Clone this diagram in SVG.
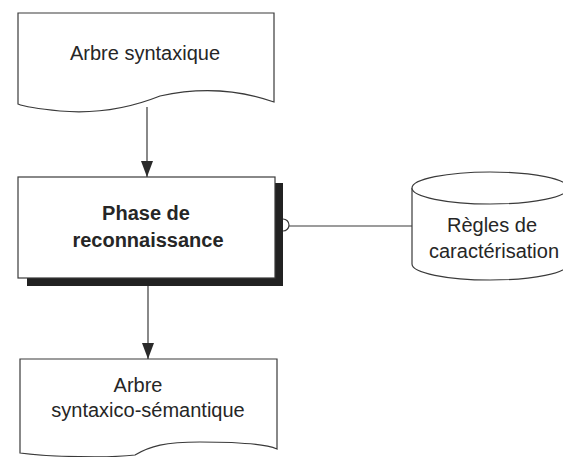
<svg xmlns="http://www.w3.org/2000/svg" width="563" height="457" viewBox="0 0 563 457">
  <style>
    .shape { fill: #fff; stroke: #3a3a3a; stroke-width: 1.2; }
    .label { font-family: "Liberation Sans", Arial, sans-serif; font-size: 20px; fill: #262626; text-anchor: middle; }
    .bold { font-weight: bold; }
    .wire { stroke: #3a3a3a; stroke-width: 1.2; fill: none; }
  </style>
  <defs>
    <marker id="arrow" viewBox="0 0 16 12" refX="16" refY="6" markerWidth="16" markerHeight="12" markerUnits="userSpaceOnUse" orient="auto">
      <path d="M0,0 L16,6 L0,12 Z" fill="#2a2a2a"/>
    </marker>
  </defs>
  <rect width="563" height="457" fill="#fff"/>

  <!-- input document -->
  <g id="arbre-syntaxique">
    <path class="shape" d="M18,13 H274 V102 C240,90 200,87 160,96 C130,108 95,114 60,111 C40,109 25,107 18,104 Z"/>
    <text class="label" x="145" y="60">Arbre syntaxique</text>
  </g>

  <!-- processing step with drop shadow -->
  <g id="phase-reconnaissance">
    <rect x="27" y="183" width="256" height="103" fill="#222"/>
    <rect class="shape" x="18" y="177" width="257" height="101"/>
    <text class="label bold" x="146" y="220">Phase de</text>
    <text class="label bold" x="148" y="247">reconnaissance</text>
  </g>

  <!-- rules store -->
  <g id="regles-caracterisation">
    <path class="shape" d="M412,188 V264 A78,16 0 0 0 568,264 V188"/>
    <ellipse class="shape" cx="490" cy="188" rx="78" ry="16"/>
    <text class="label" x="492" y="232">Règles de</text>
    <text class="label" x="494" y="258">caractérisation</text>
  </g>

  <!-- output document -->
  <g id="arbre-syntaxico-semantique">
    <path class="shape" d="M20,359 H277 V449 C265,444 240,442 200,442 C165,442 150,446 135,455 C110,458 50,457 20,453 Z"/>
    <text class="label" x="138" y="392">Arbre</text>
    <text class="label" x="148" y="417">syntaxico-sémantique</text>
  </g>

  <g id="connectors">
    <line class="wire" x1="147" y1="107" x2="147" y2="177" marker-end="url(#arrow)"/>
    <line class="wire" x1="148" y1="286" x2="148" y2="359" marker-end="url(#arrow)"/>
    <path class="wire" d="M283,219 A6,6 0 0 1 283,231"/>
    <line class="wire" x1="289" y1="226" x2="412" y2="226"/>
  </g>
</svg>
